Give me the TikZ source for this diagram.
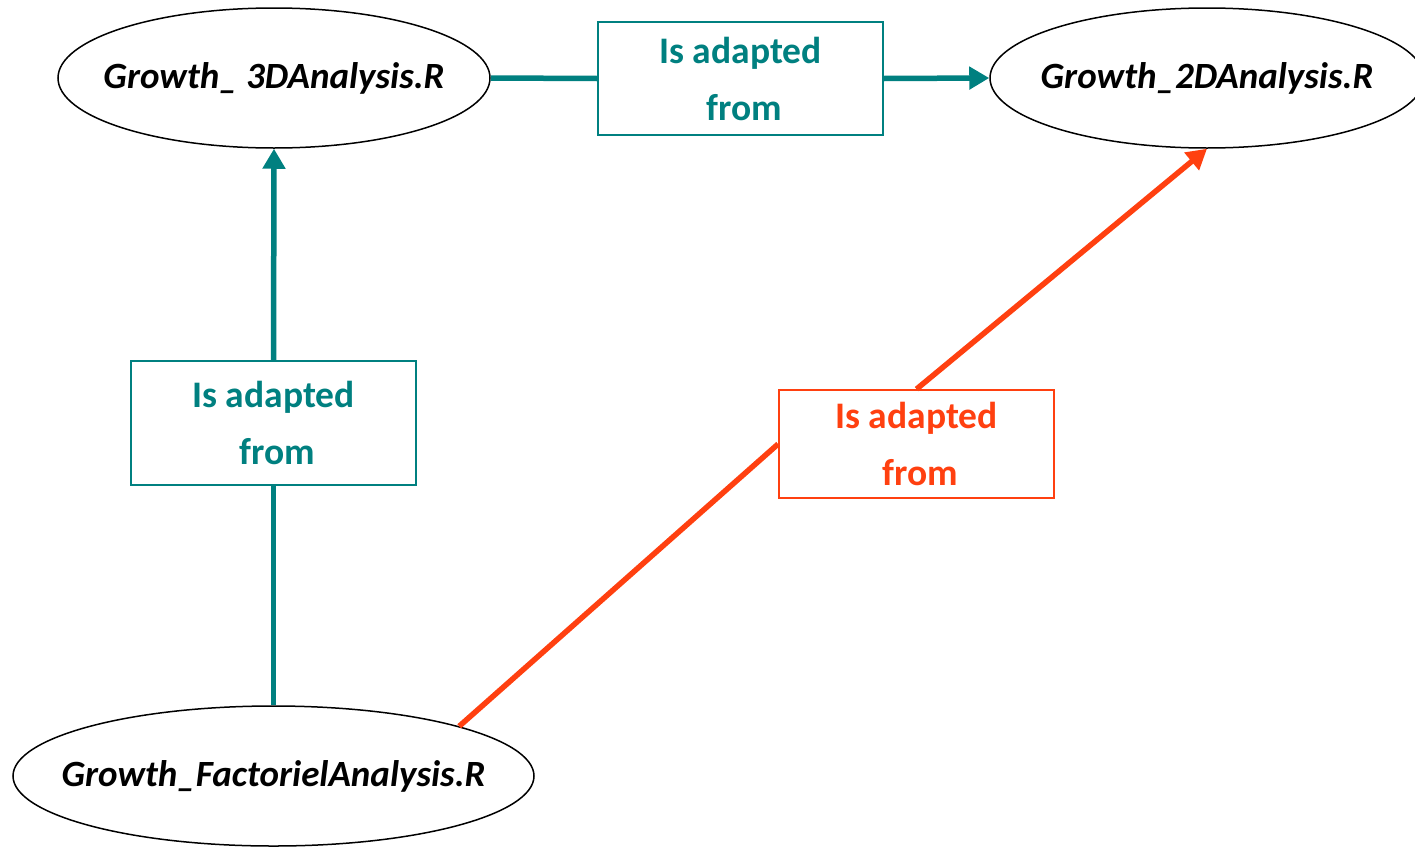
\documentclass[tikz,border=0pt]{standalone}
\usepackage{fontspec}
\setmainfont{Carlito}
\usetikzlibrary{shapes.geometric,arrows.meta}
\definecolor{teal}{HTML}{008080}
\definecolor{adaptred}{HTML}{FF4010}
% file names are set in a zero-width box so the ellipse keeps its given size
\newcommand{\fname}[1]{\makebox[0pt]{#1}}
% two-line relation label; the second line sits a little right of centre
\newcommand{\adapted}{Is adapted\\ \hspace*{8pt}from}
\tikzset{
  file/.style={ellipse, draw=black, line width=1.5pt, fill=white, inner sep=0pt,
    font=\fontsize{37}{44}\selectfont\bfseries\itshape},
  linkbox/.style={rectangle, draw=#1, line width=1.8pt, fill=white, inner sep=0pt,
    text=#1, align=center, font=\fontsize{37.5}{57}\selectfont\bfseries},
  link/.style={draw=#1, line width=5.5pt},
  linkhead/.style={link=#1, -{Triangle[length=20pt,width=22pt]}}
}
\begin{document}
\begin{tikzpicture}[x=1pt,y=-1pt]
  \useasboundingbox (0,0) rectangle (1415,846);

  % script files
  \node[file, minimum width=432pt, minimum height=140pt] (a3d) at (274,78) {\fname{Growth\_ 3DAnalysis.R}};
  \node[file, minimum width=434pt, minimum height=140pt] (a2d) at (1207,78) {\fname{Growth\_2DAnalysis.R}};
  \node[file, minimum width=521pt, minimum height=140pt] (fact) at (273.5,776) {\fname{Growth\_FactorielAnalysis.R}};

  % relation labels
  \node[linkbox=teal, minimum width=285pt, minimum height=113pt] (r1) at (740.5,78.5) {\adapted};
  \node[linkbox=teal, minimum width=285pt, minimum height=124pt] (r2) at (273.5,423) {\adapted};
  \node[linkbox=adaptred, minimum width=275pt, minimum height=108pt] (r3) at (916.5,444) {\adapted};

  % relations
  \draw[link=teal] (a3d.east) -- (r1.west);
  \draw[linkhead=teal] (r1.east) -- (a2d.west);
  \draw[link=teal] (fact.north) -- (r2.south);
  \draw[linkhead=teal] (r2.north) -- (a3d.south);
  \draw[link=adaptred] (fact.15) -- (r3.west);
  \draw[linkhead=adaptred] (r3.north) -- (a2d.south);
\end{tikzpicture}
\end{document}
